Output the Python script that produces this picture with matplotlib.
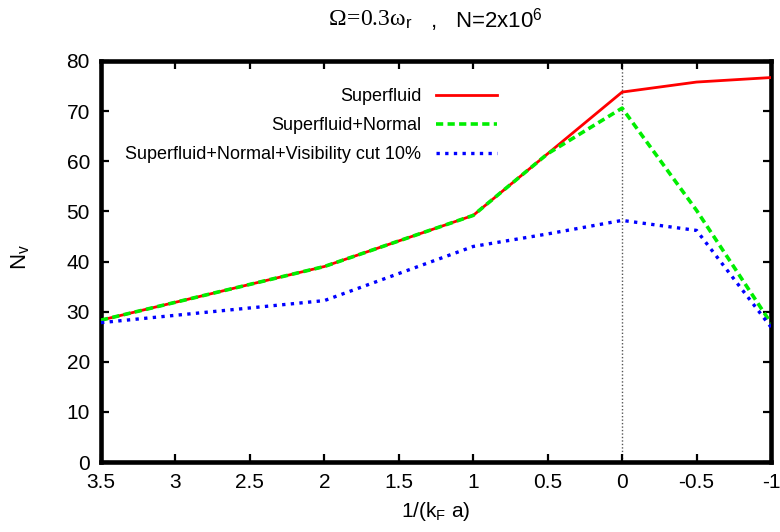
import matplotlib
matplotlib.use("Agg")
import matplotlib.pyplot as plt

plt.rcParams['font.family'] = ['Liberation Sans', 'DejaVu Sans']
plt.rcParams['mathtext.fontset'] = 'custom'
plt.rcParams['mathtext.rm'] = 'Liberation Serif'
plt.rcParams['mathtext.it'] = 'Liberation Serif'
plt.rcParams['mathtext.sf'] = 'Liberation Sans'

# --------------------------------
# Data
# --------------------------------
inv_kfa = [3.5, 2, 1, 0.5, 0, -0.5, -1]
superfluid = [28.3, 39, 49.2, 61.5, 73.8, 75.8, 76.7]
sf_normal = [28.3, 39, 49.2, 61.5, 70.6, 50.2, 27.7]
sf_normal_vis = [27.8, 32.2, 43, 45.5, 48.2, 46.2, 26.9]

xticks = [3.5, 3, 2.5, 2, 1.5, 1, 0.5, 0, -0.5, -1]
xtick_labels = ["3.5", "3", "2.5", "2", "1.5", "1", "0.5", "0", "-0.5", "-1"]
yticks = [0, 10, 20, 30, 40, 50, 60, 70, 80]

# --------------------------------
# Figure
# --------------------------------
fig = plt.figure(figsize=(7.8, 5.32), dpi=100)
ax = fig.add_axes([101/780, 1 - 462/532, 670/780, 401/532])

ax.axvline(0, color="#555555", lw=1.0, ls=(0, (1, 1.5)), zorder=1)

ax.plot(inv_kfa, superfluid, color="#ff0000", lw=2.0, label="Superfluid", zorder=3)
ax.plot(inv_kfa, sf_normal, color="#00ee00", lw=2.6, ls=(0, (2.0, 1.2)),
        label="Superfluid+Normal", zorder=4)
ax.plot(inv_kfa, sf_normal_vis, color="#0000ff", lw=2.4, ls=(0, (1.0, 1.6)),
        label="Superfluid+Normal+Visibility cut 10%", zorder=4)

ax.set_xlim(3.5, -1)
ax.set_ylim(0, 80)
ax.set_xticks(xticks)
ax.set_xticklabels(xtick_labels)
ax.set_yticks(yticks)

for s in ax.spines.values():
    s.set_linewidth(3.3)
ax.tick_params(direction="in", length=6, width=1.6, top=True, right=True,
               labelsize=15, pad=8)

ax.set_xlabel("1/(k$_\\mathsf{F}$ a)", fontsize=15, labelpad=6)
fig.text(20/780, 1 - 257/532, "N$_\\mathsf{v}$", fontsize=16, rotation=90,
         ha="center", va="center")

# title: serif part and sans part drawn side by side
fig.text(412/780, 1 - 20/532, r"$\Omega\!=\!0.3\omega_\mathsf{r}$",
         fontsize=17, ha="right", va="center")
fig.text(412/780, 1 - 20/532, "   ,   N=2x10$^\\mathsf{6}$",
         fontsize=16, ha="left", va="center")

leg = ax.legend(loc="upper right", bbox_to_anchor=((497 - 101)/670, (462 - 88)/401),
                frameon=False, markerfirst=False, fontsize=13,
                handlelength=3.4, handletextpad=0.8, labelspacing=0.66,
                borderpad=0, borderaxespad=0)

fig.savefig("out.png", dpi=100)
